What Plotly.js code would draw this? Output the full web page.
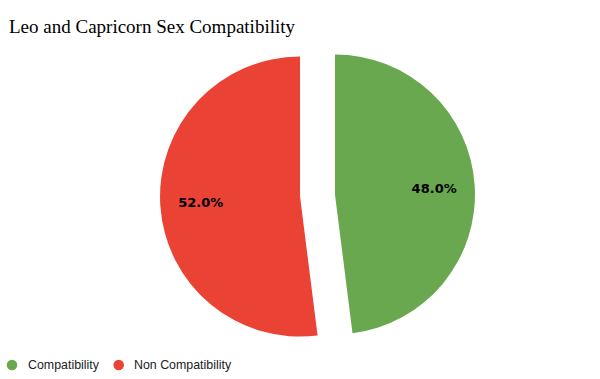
<!DOCTYPE html>
<html>
<head>
<meta charset="utf-8">
<script src="https://cdn.plot.ly/plotly-3.0.1.min.js"></script>
<style>html,body{margin:0;padding:0;background:#fff;}#chart{width:600px;height:379px;}</style>
</head>
<body>
<div id="chart"></div>
<script>
const labels = ["Compatibility", "Non Compatibility"];
const values = [48, 52];
const colors = ["#6aa84f", "#ea4335"];
const chartTitle = "Leo and Capricorn Sex Compatibility";

const W = 600, H = 379;
const M = {l: 35, r: 0, t: 38, b: 26};
const plotW = W - M.l - M.r, plotH = H - M.t - M.b;
const toPaperX = px => (px - M.l) / plotW;
const toPaperY = py => (H - M.b - py) / plotH;

const pieBase = {
  type: "pie",
  labels: labels,
  values: values,
  sort: false,
  direction: "clockwise",
  rotation: 0,
  pull: [0.125, 0.125],
  showlegend: false,
  domain: {x: [0, 1], y: [0, 1]}
};

const pie = Object.assign({}, pieBase, {
  marker: {colors: colors, line: {width: 0}},
  textinfo: "none",
  hoverinfo: "label+percent"
});

// transparent ring carrying the percentage labels further out in each slice
const pieText = Object.assign({}, pieBase, {
  hole: 0.42,
  marker: {colors: ["rgba(0,0,0,0)", "rgba(0,0,0,0)"], line: {width: 0}},
  textinfo: "percent",
  texttemplate: "%{percent:.1%}",
  textposition: "inside",
  insidetextorientation: "horizontal",
  textfont: {family: "DejaVu Sans, Verdana, sans-serif", size: 13, color: "#000", weight: "bold"},
  hoverinfo: "skip"
});

// legend built in the layout: circle swatch + label per category
const legendMarkerX = [12, 118.7];
const legendTextX = [27, 132.5];
const legendY = 365;
const legendR = 5.3;

const shapes = labels.map((l, i) => ({
  type: "circle",
  xref: "paper", yref: "paper",
  xsizemode: "pixel", ysizemode: "pixel",
  xanchor: toPaperX(legendMarkerX[i]), yanchor: toPaperY(legendY),
  x0: -legendR, x1: legendR, y0: -legendR, y1: legendR,
  fillcolor: colors[i],
  line: {width: 0}
}));

const annotations = labels.map((l, i) => ({
  text: l,
  xref: "paper", yref: "paper",
  x: toPaperX(legendTextX[i]), y: toPaperY(legendY),
  xanchor: "left", yanchor: "middle",
  showarrow: false,
  borderpad: 0,
  font: {family: "Liberation Sans, Arial, sans-serif", size: 12.4, color: "#222"}
}));

const layout = {
  width: W, height: H,
  margin: M,
  paper_bgcolor: "#fff",
  plot_bgcolor: "#fff",
  title: {
    text: chartTitle,
    font: {family: "Liberation Serif, DejaVu Serif, serif", size: 19, color: "#000"},
    x: 0.015, xanchor: "left", xref: "container",
    y: 0.93, yanchor: "middle", yref: "container"
  },
  showlegend: false,
  shapes: shapes,
  annotations: annotations
};

Plotly.newPlot("chart", [pie, pieText], layout, {displayModeBar: false, staticPlot: true});
</script>
</body>
</html>
